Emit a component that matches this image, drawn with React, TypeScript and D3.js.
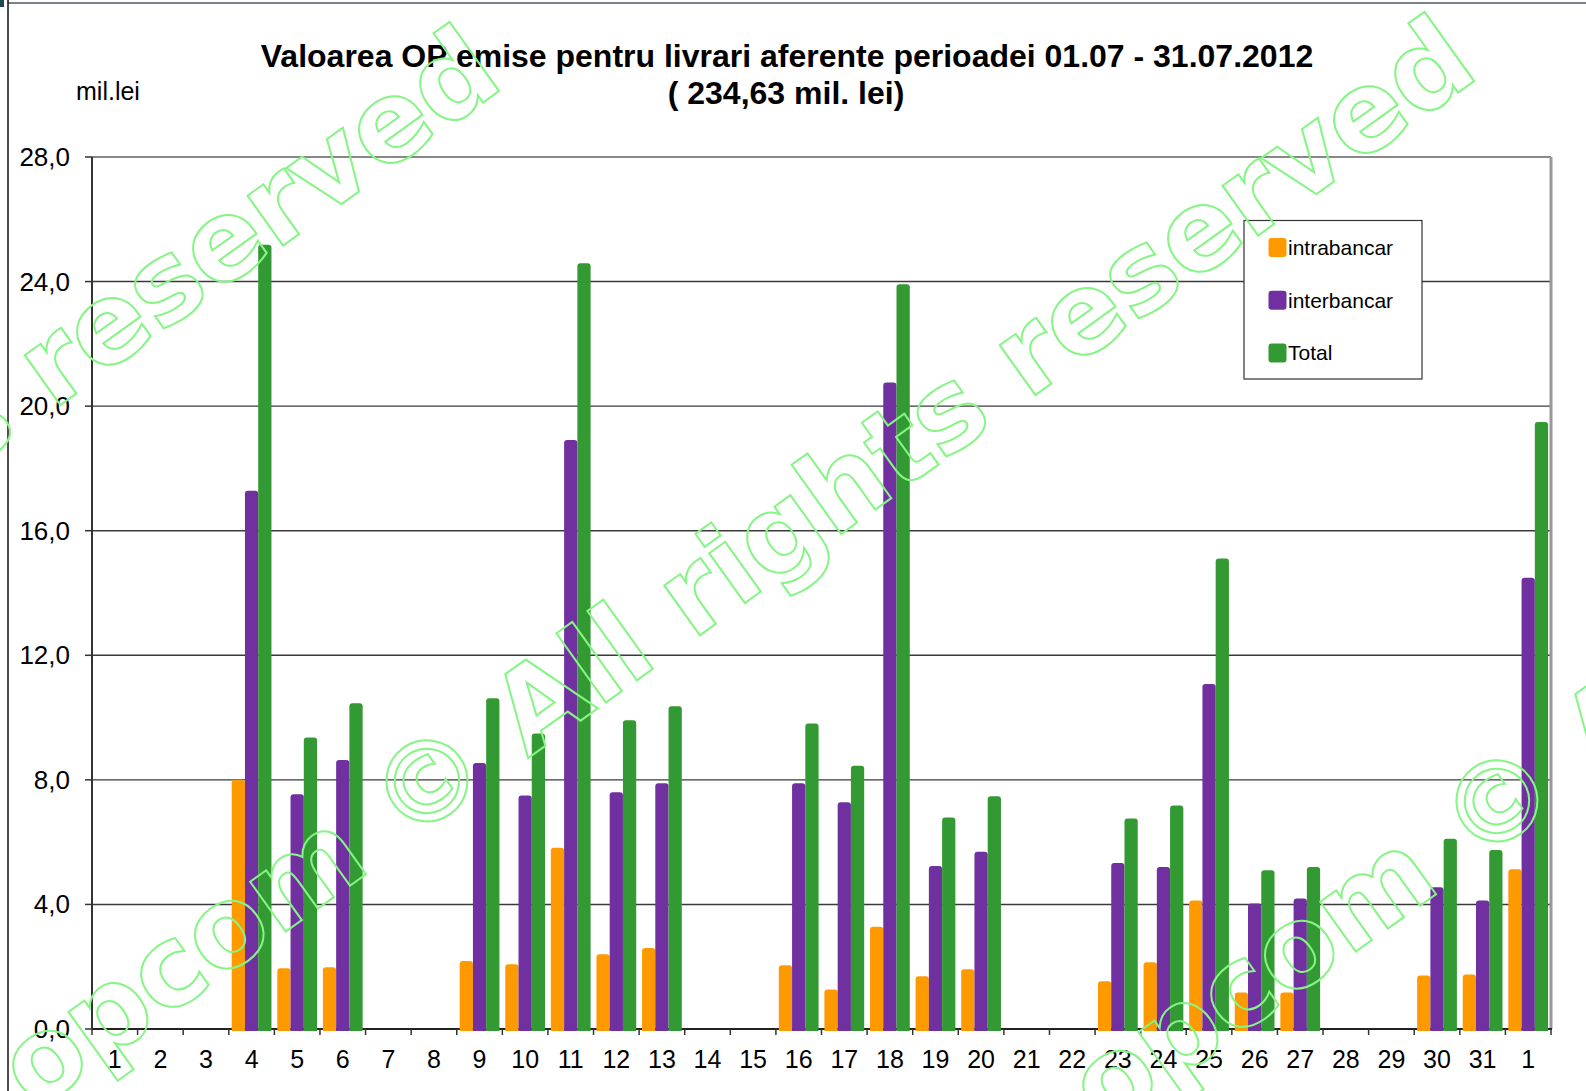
import React from 'react';
import * as d3 from 'd3';

const days = ['1', '2', '3', '4', '5', '6', '7', '8', '9', '10', '11', '12', '13', '14', '15', '16',
  '17', '18', '19', '20', '21', '22', '23', '24', '25', '26', '27', '28', '29', '30', '31', '1'];

const intrabancar = [0, 0, 0, 8.0, 1.95, 1.98, 0, 0, 2.18, 2.08, 5.82, 2.4, 2.6, 0, 0, 2.05,
  1.27, 3.28, 1.69, 1.92, 0, 0, 1.53, 2.14, 4.13, 1.17, 1.17, 0, 0, 1.72, 1.75, 5.13];
const interbancar = [0, 0, 0, 17.28, 7.54, 8.64, 0, 0, 8.54, 7.5, 18.91, 7.6, 7.89, 0, 0, 7.89,
  7.28, 20.76, 5.23, 5.69, 0, 0, 5.33, 5.2, 11.08, 4.03, 4.19, 0, 0, 4.55, 4.13, 14.49];
const total = [0, 0, 0, 25.18, 9.36, 10.46, 0, 0, 10.62, 9.49, 24.59, 9.91, 10.36, 0, 0, 9.81,
  8.45, 23.91, 6.79, 7.47, 0, 0, 6.76, 7.18, 15.11, 5.1, 5.2, 0, 0, 6.11, 5.75, 19.49];

const seriesNames = ['intrabancar', 'interbancar', 'Total'];
const seriesColors = ['#FF9900', '#7030A0', '#339933'];
const yTicks = [0, 4, 8, 12, 16, 20, 24, 28];

const title1 = 'Valoarea OP emise pentru livrari aferente perioadei 01.07 - 31.07.2012';
const title2 = '( 234,63 mil. lei)';
const watermark = 'opcom \u00A9 All rights reserved';

const W = 1586;
const H = 1091;
const margin = { top: 157, right: 35, bottom: 62, left: 92 };

const font = '"Liberation Sans", Arial, sans-serif';

// rounded top corners, flat bottom
function barPath(x: number, y: number, w: number, h: number, r: number) {
  const rr = Math.min(r, h / 2, w / 2);
  return `M${x},${y + h}V${y + rr}Q${x},${y} ${x + rr},${y}H${x + w - rr}Q${x + w},${y} ${x + w},${y + rr}V${y + h}Z`;
}

export default function App() {
  const series = [intrabancar, interbancar, total];
  const x0 = margin.left;
  const x1 = W - margin.right;
  const yTop = margin.top;
  const yBot = H - margin.bottom; // 1029

  const x = d3.scaleBand<number>().domain(d3.range(days.length)).range([x0, x1]).padding(0);
  const xs = d3.scaleBand<number>().domain([0, 1, 2]).range([0, x.bandwidth()]).paddingInner(0).paddingOuter(0.22);
  const y = d3.scaleLinear().domain([0, 28]).range([yBot, yTop]);

  const wmStart = [34, 1112];
  const wmOffsets = [[-975, 10], [0, 0], [1070, 20]];

  return (
    <svg width={W} height={H} style={{ position: 'absolute', left: 0, top: 0, background: '#fff' }}
      fontFamily={font}>
      <rect x={0} y={0} width={W} height={H} fill="#fff" />
      {/* page frame */}
      <line x1={8} y1={3} x2={W} y2={3} stroke="#4a5a5c" strokeWidth={1.5} />
      <line x1={8} y1={0} x2={8} y2={H} stroke="#111" strokeWidth={1.5} />
      <rect x={0} y={0} width={4} height={7} fill="#1f4a4f" />

      {/* title */}
      <text x={787} y={67} textAnchor="middle" fontSize={32} fontWeight="bold" fill="#000">{title1}</text>
      <text x={786} y={104} textAnchor="middle" fontSize={32} fontWeight="bold" fill="#000">{title2}</text>
      <text x={76} y={100} fontSize={25} fill="#000">mil.lei</text>

      {/* grid */}
      {yTicks.filter(t => t > 0 && t < 28).map(t => (
        <line key={t} x1={x0} x2={x1} y1={y(t)} y2={y(t)} stroke="#3a3a3a" strokeWidth={1.4} />
      ))}
      {/* plot border */}
      <line x1={x0} x2={x1} y1={yTop} y2={yTop} stroke="#888" strokeWidth={2} />
      <line x1={x1} x2={x1} y1={yTop} y2={yBot} stroke="#999" strokeWidth={3} />
      <line x1={x0} x2={x1 + 1} y1={yBot} y2={yBot} stroke="#222" strokeWidth={2} />
      <line x1={x0} x2={x0} y1={yTop} y2={yBot} stroke="#333" strokeWidth={2} />

      {/* y ticks */}
      {yTicks.map(t => (
        <g key={t}>
          <line x1={x0 - 7} x2={x0} y1={y(t)} y2={y(t)} stroke="#333" strokeWidth={1.5} />
          <text x={70} y={y(t) + 9} textAnchor="end" fontSize={26} fill="#000">
            {t.toFixed(1).replace('.', ',')}
          </text>
        </g>
      ))}

      {/* x ticks and labels */}
      {d3.range(days.length + 1).map(i => {
        const px = i < days.length ? (x(i) as number) : x1;
        return <line key={i} x1={px} x2={px} y1={yBot} y2={yBot + 6} stroke="#333" strokeWidth={1.5} />;
      })}
      {days.map((d, i) => (
        <text key={i} x={(x(i) as number) + x.bandwidth() / 2} y={1068} textAnchor="middle" fontSize={25} fill="#000">{d}</text>
      ))}

      {/* bars */}
      {series.map((vals, s) => (
        <g key={s} fill={seriesColors[s]}>
          {vals.map((v, i) => {
            if (!v) return null;
            const bx = (x(i) as number) + (xs(s) as number);
            const by = y(v);
            return <path key={i} d={barPath(bx, by, xs.bandwidth(), yBot + 2 - by, 3)} />;
          })}
        </g>
      ))}

      {/* legend */}
      <rect x={1244} y={220.5} width={178} height={158.5} fill="#fff" stroke="#333" strokeWidth={1.2} />
      {seriesNames.map((n, i) => (
        <g key={n}>
          <rect x={1268.5} y={238 + i * 52.7} width={18} height={19} rx={3} fill={seriesColors[i]} />
          <text x={1288} y={255 + i * 52.5} fontSize={21} fill="#000">{n}</text>
        </g>
      ))}

      {/* watermark */}
      {wmOffsets.map((o, k) => (
        <text key={k} transform={`translate(${wmStart[0] + o[0]},${wmStart[1] + o[1]}) rotate(-35.6)`}
          fontFamily='"DejaVu Sans", Verdana, sans-serif' fontWeight="bold" fontSize={112}
          fill="none" stroke="#86f586" strokeWidth={2}>
          {watermark}
        </text>
      ))}
    </svg>
  );
}
